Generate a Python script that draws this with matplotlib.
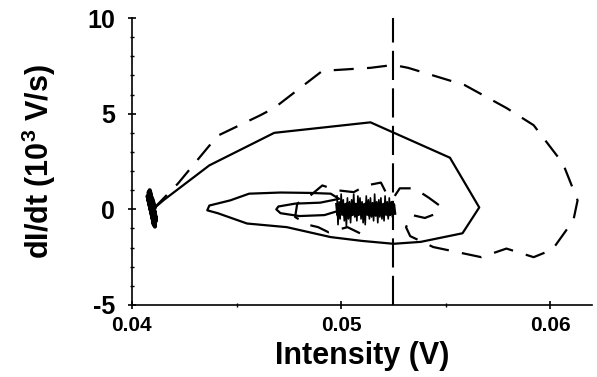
import matplotlib
matplotlib.use('Agg')
from matplotlib import pyplot as plt
from matplotlib.ticker import MultipleLocator, FormatStrFormatter

plt.rcParams['font.family'] = ['Liberation Sans', 'DejaVu Sans']
plt.rcParams['font.weight'] = 'bold'
plt.rcParams['mathtext.fontset'] = 'custom'
plt.rcParams['mathtext.rm'] = 'Liberation Sans:bold'
plt.rcParams['mathtext.default'] = 'rm'
plt.rcParams['axes.unicode_minus'] = False

# solid trajectory: left start, outer loop, middle loop, small inner loop
solid_x = [0.0410, 0.0415, 0.0437, 0.0468, 0.0514, 0.0552, 0.0566, 0.0558, 0.0538,
           0.0525, 0.0510, 0.0495, 0.0474, 0.0455, 0.0441, 0.0436, 0.0437, 0.0447,
           0.0456, 0.0471, 0.0485, 0.0495, 0.0499, 0.0490, 0.0478, 0.0470, 0.0469,
           0.0471, 0.0480, 0.0492, 0.0498]
solid_y = [0.0, 0.47, 2.3, 4.0, 4.55, 2.7, 0.1, -1.25, -1.7,
           -1.8, -1.65, -1.45, -0.93, -0.74, -0.2, -0.05, 0.2, 0.47,
           0.82, 0.88, 0.86, 0.82, 0.55, 0.35, 0.3, 0.15, 0.0,
           -0.2, -0.35, -0.3, -0.1]

# noisy tail of the solid trajectory near 0.05 V
noise_x = [0.04980, 0.04985, 0.04990, 0.04995, 0.05000, 0.05005, 0.05010, 0.05015,
           0.05020, 0.05025, 0.05030, 0.05035, 0.05040, 0.05045, 0.05050, 0.05055,
           0.05060, 0.05065, 0.05070, 0.05075, 0.05080, 0.05085, 0.05090, 0.05095,
           0.05100, 0.05105, 0.05110, 0.05115, 0.05120, 0.05125, 0.05130, 0.05135,
           0.05140, 0.05145, 0.05150, 0.05155, 0.05160, 0.05165, 0.05170, 0.05175,
           0.05180, 0.05185, 0.05190, 0.05195, 0.05200, 0.05205, 0.05210, 0.05215,
           0.05220, 0.05225, 0.05230, 0.05235, 0.05240, 0.05245, 0.05250, 0.05255]
noise_y = [0.7, -0.8, 0.4, -0.5, 0.8, -0.3, 0.5, -0.6, 0.3, -0.9, 0.6, -0.5,
           0.4, -0.7, 0.5, -0.3, 0.8, -0.4, 0.3, -0.6, 0.7, -0.2, 0.6, -0.5,
           0.4, -0.7, 0.3, -0.8, 0.7, -0.3, 0.5, -0.5, 0.6, -0.4, 0.3, -0.6,
           0.8, -0.3, 0.4, -0.7, 0.5, -0.4, 0.6, -0.5, 0.3, -0.6, 0.7, -0.3,
           0.4, -0.5, 0.6, -0.3, 0.4, -0.4, 0.3, -0.2]
core_y = [0.25, -0.3, 0.2, -0.25, 0.3, -0.2, 0.25, -0.3, 0.2, -0.25, 0.3, -0.2,
          0.25, -0.3, 0.2, -0.25, 0.3, -0.2, 0.25, -0.3, 0.2, -0.25, 0.3, -0.2,
          0.25, -0.3, 0.2, -0.25, 0.3, -0.2, 0.25, -0.3, 0.2, -0.25, 0.3, -0.2,
          0.25, -0.3, 0.2, -0.25, 0.3, -0.2, 0.25, -0.3, 0.2, -0.25, 0.3, -0.2,
          0.25, -0.3, 0.2, -0.25, 0.3, -0.2, 0.25, -0.2]

# noisy start near 0.041 V
left_x = [0.04095, 0.04080, 0.04105, 0.04075, 0.04110, 0.04085, 0.04115, 0.04080,
          0.04105, 0.04085, 0.04110, 0.04090, 0.04115, 0.04095, 0.04110, 0.04100]
left_y = [0.0, 0.9, -0.8, 0.7, -0.9, 1.0, -0.5, 0.5, -0.7, 0.8, -0.3, 0.4,
          -0.6, 0.6, 0.1, 0.0]

# dashed trajectory: outer loop spiralling inwards
dash_x = [0.0410, 0.0422, 0.0436, 0.0441, 0.0461, 0.0468, 0.0491, 0.0514, 0.0525,
          0.0532, 0.0559, 0.0579, 0.0592, 0.0606, 0.0613, 0.0611, 0.0601, 0.0592,
          0.0579, 0.0567, 0.0544, 0.0533, 0.0531, 0.0534, 0.0540, 0.0546, 0.0547,
          0.0542, 0.0535, 0.0528, 0.0525, 0.0522, 0.0519, 0.0512, 0.0506, 0.0498,
          0.0491, 0.0485, 0.0479, 0.0478, 0.0484, 0.0489, 0.0494, 0.0503, 0.0509]
dash_y = [0.0, 1.35, 3.2, 3.85, 4.9, 5.3, 7.24, 7.4, 7.55,
          7.4, 6.5, 5.3, 4.4, 2.4, 0.47, -0.57, -2.1, -2.5,
          -2.05, -2.5, -1.97, -1.4, -0.93, -0.3, -0.45, -0.2, 0.2,
          0.6, 1.1, 1.1, 0.6, 0.75, 1.4, 1.25, 0.9, 1.0,
          1.25, 0.7, 0.3, -0.4, -0.8, -0.93, -1.2, -0.93, -1.25]

vline_x = 0.0525

fig = plt.figure(figsize=(5.97, 3.77), dpi=100)
ax = fig.add_axes([0.221, 0.191, 0.771, 0.761])

ax.plot(left_x, left_y, '-', color='black', lw=3)
ax.plot(solid_x, solid_y, '-', color='black', lw=1.6)
ax.plot(noise_x, noise_y, '-', color='black', lw=1.2)
ax.plot(noise_x, core_y, '-', color='black', lw=2.5)
ax.plot(dash_x, dash_y, color='black', lw=1.6, linestyle=(0, (9, 6)))
ax.axvline(vline_x, color='black', lw=1.5, linestyle=(0, (14, 4)))

ax.set_xlim(0.04, 0.062)
ax.set_ylim(-5, 10)
ax.xaxis.set_major_locator(MultipleLocator(0.01))
ax.xaxis.set_minor_locator(MultipleLocator(0.005))
ax.yaxis.set_major_locator(MultipleLocator(5))
ax.yaxis.set_minor_locator(MultipleLocator(1))
ax.xaxis.set_major_formatter(FormatStrFormatter('%.2f'))

for s in ['top', 'right']:
    ax.spines[s].set_visible(False)
for s in ['left', 'bottom']:
    ax.spines[s].set_linewidth(1.2)

ax.tick_params(which='major', direction='inout', length=6, width=1.2)
ax.tick_params(which='minor', direction='inout', length=3.5, width=1.0)
ax.tick_params(axis='x', which='major', pad=5, labelsize=15)
ax.tick_params(axis='y', which='major', pad=9, labelsize=18)

ax.set_xlabel('Intensity (V)', fontsize=22, fontweight='bold', labelpad=4)
ax.set_ylabel(r'dI/dt (10$^{3}$ V/s)', fontsize=22, fontweight='bold', labelpad=21)

plt.savefig('out.png', dpi=100)
